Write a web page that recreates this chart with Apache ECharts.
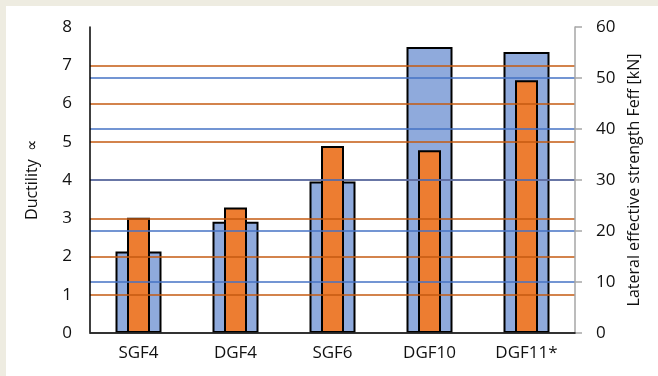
<!DOCTYPE html>
<html>
<head>
<meta charset="utf-8">
<script src="https://cdn.jsdelivr.net/npm/echarts@6/dist/echarts.min.js"></script>
<style>
  html, body { margin: 0; padding: 0; background: #EEECE1; }
  #wrap { position: relative; width: 658px; height: 376px; overflow: hidden; }
  #panel { position: absolute; left: 6px; top: 6px; right: 0; bottom: 0; background: #ffffff; }
  #chart { position: absolute; left: 0; top: 0; width: 658px; height: 376px; }
</style>
</head>
<body>
<div id="wrap">
  <div id="panel"></div>
  <div id="chart"></div>
</div>
<script>
// Specimens along the x axis
const categories = ['SGF4', 'DGF4', 'SGF6', 'DGF10', 'DGF11*'];
// Ductility (left axis)
const ductility = [3.01, 3.28, 4.89, 4.78, 6.61];
// Lateral effective strength Feff in kN (right axis)
const strength = [16.0, 21.8, 29.7, 56.1, 55.1];

const FONT = '"Open Sans", sans-serif';
const TEXT = '#111111';
const NONE = 'rgba(0,0,0,0)';

// Grid line colours per tick; the lines at the plot edges are left to the frame
const orangeGrid = [NONE, '#C55A11', '#C55A11', '#C55A11', '#C55A11', '#C55A11', '#C55A11', '#C55A11', NONE];
const blueGrid = [NONE, '#4472C4', '#4472C4', '#4472C4', '#4472C4', '#4472C4', NONE];

const chart = echarts.init(document.getElementById('chart'), null, { renderer: 'canvas' });

chart.setOption({
  backgroundColor: 'transparent',
  animation: false,
  textStyle: { fontFamily: FONT },
  grid: { left: 90, right: 83, top: 27, bottom: 43, containLabel: false },
  xAxis: [
    {
      type: 'category',
      data: categories,
      position: 'bottom',
      z: 5,
      axisLine: { show: true, lineStyle: { color: '#BFBFBF', width: 1.5 } },
      axisTick: { show: false },
      axisLabel: { color: TEXT, fontFamily: FONT, fontSize: 17, margin: 12 },
      splitLine: { show: false }
    },
    {
      type: 'category',
      data: categories,
      position: 'top',
      z: 5,
      axisLine: { show: true, lineStyle: { color: '#000000', width: 1.5 } },
      axisTick: { show: false },
      axisLabel: { show: false },
      splitLine: { show: false }
    }
  ],
  yAxis: [
    {
      type: 'value',
      position: 'left',
      min: 0, max: 8, interval: 1,
      z: 4,
      name: 'Ductility  \u221D',
      nameLocation: 'middle',
      nameRotate: 90,
      nameGap: 50,
      nameTextStyle: { color: TEXT, fontFamily: FONT, fontSize: 16 },
      axisLine: { show: true, lineStyle: { color: '#000000', width: 1.5 } },
      axisTick: { show: false },
      axisLabel: { color: TEXT, fontFamily: FONT, fontSize: 17, margin: 18 },
      splitLine: { show: true, lineStyle: { color: orangeGrid, width: 1.5 } }
    },
    {
      type: 'value',
      position: 'right',
      min: 0, max: 60, interval: 10,
      z: 4,
      name: 'Lateral effective strength Feff [kN]',
      nameLocation: 'middle',
      nameRotate: 90,
      nameGap: 50,
      nameTextStyle: { color: TEXT, fontFamily: FONT, fontSize: 16 },
      axisLine: { show: true, lineStyle: { color: '#A6A6A6', width: 1.5 } },
      axisTick: { show: true, inside: false, length: 7, lineStyle: { color: '#A6A6A6', width: 1.5 } },
      axisLabel: { color: TEXT, fontFamily: FONT, fontSize: 17, margin: 21 },
      splitLine: { show: true, lineStyle: { color: blueGrid, width: 1.5 } }
    }
  ],
  series: [
    {
      name: 'Lateral effective strength Feff [kN]',
      type: 'bar',
      xAxisIndex: 0,
      yAxisIndex: 1,
      data: strength,
      barWidth: 46,
      z: 2,
      itemStyle: { color: '#8FAADC', borderColor: '#000000', borderWidth: 2 }
    },
    {
      name: 'Ductility',
      type: 'bar',
      xAxisIndex: 1,
      yAxisIndex: 0,
      data: ductility,
      barWidth: 23,
      z: 3,
      itemStyle: { color: '#ED7D31', borderColor: '#000000', borderWidth: 2 }
    }
  ]
});
</script>
</body>
</html>
